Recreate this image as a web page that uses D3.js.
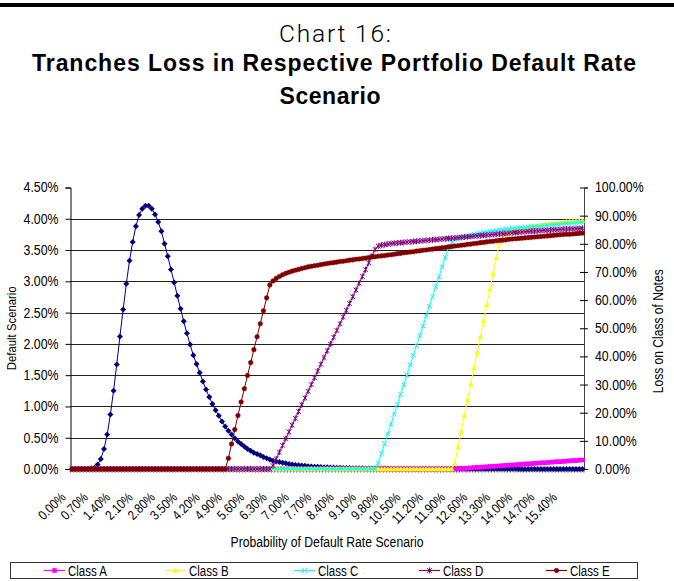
<!DOCTYPE html>
<html>
<head>
<meta charset="utf-8">
<script src="https://cdn.jsdelivr.net/npm/d3@7"></script>
<style>
  body { margin: 0; background: #fff; }
  svg { display: block; }
  text { font-family: "Liberation Sans Narrow", "Arial Narrow", "Liberation Sans", sans-serif; fill: #000; }
</style>
</head>
<body>
<div id="chart"></div>
<script>
// ---- data (values in %) ----
const xTickLabels = ["0.00%", "0.70%", "1.40%", "2.10%", "2.80%", "3.50%", "4.20%", "4.90%", "5.60%", "6.30%", "7.00%", "7.70%",
  "8.40%", "9.10%", "9.80%", "10.50%", "11.20%", "11.90%", "12.60%", "13.30%", "14.00%", "14.70%", "15.40%"];
const categories = d3.range(161).map(i => (i / 10).toFixed(2) + "%");

const leftTicks = [0, 0.5, 1, 1.5, 2, 2.5, 3, 3.5, 4, 4.5];
const rightTicks = [0, 10, 20, 30, 40, 50, 60, 70, 80, 90, 100];

const defaultScenario = [
  0, 0, 0, 0, 0, 0, 0.01, 0.02, 0.07, 0.16,
  0.32, 0.55, 0.87, 1.25, 1.67, 2.12, 2.55, 2.96, 3.33, 3.63,
  3.88, 4.06, 4.16, 4.21, 4.21, 4.16, 4.07, 3.95, 3.80, 3.60,
  3.40, 3.19, 2.98, 2.77, 2.56, 2.36, 2.17, 1.99, 1.82, 1.68,
  1.54, 1.40, 1.27, 1.15, 1.04, 0.94, 0.85, 0.76, 0.68, 0.61,
  0.55, 0.49, 0.44, 0.40, 0.36, 0.32, 0.29, 0.26, 0.24, 0.22,
  0.19, 0.17, 0.15, 0.13, 0.12, 0.11, 0.10, 0.09, 0.08, 0.07,
  0.065, 0.06, 0.055, 0.05, 0.045, 0.04, 0.037, 0.034, 0.031, 0.028,
  0.026, 0.024, 0.022, 0.02, 0.018, 0.017, 0.015, 0.014, 0.013, 0.012,
  0.011, 0.010, 0.009, 0.009, 0.008, 0.008, 0.007, 0.007, 0.006, 0.006,
  0.005, 0.005, 0.005, 0.004, 0.004, 0.004, 0.004, 0.003, 0.003, 0.003,
  0.003, 0.003, 0.003, 0.003, 0.003, 0.003, 0.003, 0.003, 0.003, 0.003,
  0.002, 0.002, 0.002, 0.002, 0.002, 0.002, 0.002, 0.002, 0.002, 0.002,
  0.002, 0.002, 0.002, 0.002, 0.002, 0.002, 0.002, 0.002, 0.002, 0.002,
  0.001, 0.001, 0.001, 0.001, 0.001, 0.001, 0.001, 0.001, 0.001, 0.001,
  0.001, 0.001, 0.001, 0.001, 0.001, 0.001, 0.001, 0.001, 0.001, 0.001,
  0.001
];

const classA = [
  0, 0, 0, 0, 0, 0, 0, 0, 0, 0,
  0, 0, 0, 0, 0, 0, 0, 0, 0, 0,
  0, 0, 0, 0, 0, 0, 0, 0, 0, 0,
  0, 0, 0, 0, 0, 0, 0, 0, 0, 0,
  0, 0, 0, 0, 0, 0, 0, 0, 0, 0,
  0, 0, 0, 0, 0, 0, 0, 0, 0, 0,
  0, 0, 0, 0, 0, 0, 0, 0, 0, 0,
  0, 0, 0, 0, 0, 0, 0, 0, 0, 0,
  0, 0, 0, 0, 0, 0, 0, 0, 0, 0,
  0, 0, 0, 0, 0, 0, 0, 0, 0, 0,
  0, 0, 0, 0, 0, 0, 0, 0, 0, 0,
  0, 0, 0, 0, 0, 0, 0, 0, 0, 0,
  0, 0.1, 0.2, 0.2, 0.3, 0.4, 0.5, 0.6, 0.6, 0.7,
  0.8, 0.9, 1.0, 1.0, 1.1, 1.2, 1.3, 1.4, 1.4, 1.5,
  1.6, 1.7, 1.8, 1.8, 1.9, 2.0, 2.1, 2.2, 2.2, 2.3,
  2.4, 2.5, 2.6, 2.6, 2.7, 2.8, 2.9, 3.0, 3.0, 3.1,
  3.2
];

const classB = [
  0, 0, 0, 0, 0, 0, 0, 0, 0, 0,
  0, 0, 0, 0, 0, 0, 0, 0, 0, 0,
  0, 0, 0, 0, 0, 0, 0, 0, 0, 0,
  0, 0, 0, 0, 0, 0, 0, 0, 0, 0,
  0, 0, 0, 0, 0, 0, 0, 0, 0, 0,
  0, 0, 0, 0, 0, 0, 0, 0, 0, 0,
  0, 0, 0, 0, 0, 0, 0, 0, 0, 0,
  0, 0, 0, 0, 0, 0, 0, 0, 0, 0,
  0, 0, 0, 0, 0, 0, 0, 0, 0, 0,
  0, 0, 0, 0, 0, 0, 0, 0, 0, 0,
  0, 0, 0, 0, 0, 0, 0, 0, 0, 0,
  0, 0, 0, 0, 0, 0, 0, 0, 0, 0,
  2.0, 7.7, 13.4, 19.0, 24.6, 30.2, 35.8, 41.4, 47.0, 52.6,
  58.2, 63.8, 69.4, 75.0, 80.6, 82.6, 83.4, 84.0, 84.4, 84.8,
  85.1, 85.4, 85.6, 85.8, 86.0, 86.2, 86.4, 86.6, 86.8, 86.9,
  87.1, 87.2, 87.4, 87.5, 87.6, 87.8, 87.9, 88.0, 88.1, 88.2,
  88.3
];

const classC = [
  0, 0, 0, 0, 0, 0, 0, 0, 0, 0,
  0, 0, 0, 0, 0, 0, 0, 0, 0, 0,
  0, 0, 0, 0, 0, 0, 0, 0, 0, 0,
  0, 0, 0, 0, 0, 0, 0, 0, 0, 0,
  0, 0, 0, 0, 0, 0, 0, 0, 0, 0,
  0, 0, 0, 0, 0, 0, 0, 0, 0, 0,
  0, 0, 0, 0, 0, 0, 0, 0, 0, 0,
  0, 0, 0, 0, 0, 0, 0, 0, 0, 0,
  0, 0, 0, 0, 0, 0, 0, 0, 0, 0,
  0, 0, 0, 0, 0, 0, 2.1, 5.6, 9.0, 12.5,
  16.0, 19.5, 23.0, 26.5, 29.9, 33.4, 36.9, 40.4, 43.8, 47.3,
  50.8, 54.3, 57.8, 61.2, 64.7, 68.2, 71.7, 75.2, 78.6, 80.6,
  81.3, 81.8, 82.2, 82.5, 82.8, 83.1, 83.4, 83.6, 83.8, 84.0,
  84.2, 84.4, 84.6, 84.7, 84.9, 85.0, 85.2, 85.3, 85.5, 85.6,
  85.7, 85.8, 85.9, 86.0, 86.1, 86.2, 86.3, 86.4, 86.5, 86.6,
  86.7, 86.8, 86.9, 87.0, 87.1, 87.2, 87.3, 87.4, 87.5, 87.6,
  87.7
];

const classD = [
  0, 0, 0, 0, 0, 0, 0, 0, 0, 0,
  0, 0, 0, 0, 0, 0, 0, 0, 0, 0,
  0, 0, 0, 0, 0, 0, 0, 0, 0, 0,
  0, 0, 0, 0, 0, 0, 0, 0, 0, 0,
  0, 0, 0, 0, 0, 0, 0, 0, 0, 0,
  0, 0, 0, 0, 0, 0, 0, 0, 0, 0,
  0, 0, 0, 1.2, 3.6, 6.0, 8.4, 10.8, 13.2, 15.6,
  18.0, 20.4, 22.8, 25.2, 27.6, 30.0, 32.4, 34.8, 37.2, 39.6,
  42.0, 44.4, 46.8, 49.2, 51.6, 54.0, 56.4, 58.8, 61.2, 63.6,
  66.0, 68.4, 70.8, 73.2, 75.6, 78.0, 79.2, 79.5, 79.7, 79.9,
  80.1, 80.2, 80.3, 80.4, 80.5, 80.6, 80.7, 80.8, 80.9, 81.0,
  81.1, 81.2, 81.3, 81.4, 81.5, 81.6, 81.7, 81.8, 81.9, 82.0,
  82.1, 82.2, 82.3, 82.4, 82.5, 82.6, 82.7, 82.8, 82.9, 83.0,
  83.1, 83.2, 83.3, 83.4, 83.5, 83.6, 83.7, 83.8, 83.9, 84.0,
  84.1, 84.2, 84.3, 84.4, 84.5, 84.5, 84.6, 84.7, 84.8, 84.8,
  84.9, 85.0, 85.0, 85.1, 85.2, 85.2, 85.3, 85.3, 85.4, 85.4,
  85.5
];

const classE = [
  0, 0, 0, 0, 0, 0, 0, 0, 0, 0,
  0, 0, 0, 0, 0, 0, 0, 0, 0, 0,
  0, 0, 0, 0, 0, 0, 0, 0, 0, 0,
  0, 0, 0, 0, 0, 0, 0, 0, 0, 0,
  0, 0, 0, 0, 0, 0, 0, 0, 0, 3.8,
  8.9, 14.0, 19.0, 23.8, 28.5, 33.2, 37.8, 42.4, 47.0, 51.6,
  56.2, 60.8, 65.4, 66.8, 67.7, 68.4, 69.0, 69.5, 69.9, 70.3,
  70.6, 70.9, 71.2, 71.5, 71.8, 72.0, 72.2, 72.4, 72.6, 72.8,
  73.0, 73.2, 73.3, 73.5, 73.7, 73.8, 74.0, 74.2, 74.3, 74.5,
  74.6, 74.8, 74.9, 75.1, 75.3, 75.4, 75.6, 75.7, 75.8, 76.0,
  76.1, 76.3, 76.5, 76.6, 76.8, 76.9, 77.1, 77.2, 77.4, 77.5,
  77.7, 77.8, 78.0, 78.1, 78.3, 78.4, 78.6, 78.7, 78.9, 79.0,
  79.2, 79.3, 79.5, 79.6, 79.8, 79.9, 80.1, 80.2, 80.4, 80.5,
  80.7, 80.8, 80.9, 81.1, 81.2, 81.3, 81.4, 81.6, 81.7, 81.8,
  81.9, 82.0, 82.1, 82.2, 82.3, 82.4, 82.5, 82.6, 82.7, 82.8,
  82.9, 83.0, 83.1, 83.2, 83.3, 83.4, 83.4, 83.5, 83.6, 83.7,
  83.8
];

const classNames = ["Class A", "Class B", "Class C", "Class D", "Class E"];
const classValues = [classA, classB, classC, classD, classE];
const classColors = ["#ff00ff", "#ffff00", "#00ffff", "#800080", "#800000"];
const classMarkers = ["square", "triangle", "x", "star", "circle"];

// ---- layout ----
const width = 674;
const height = 581;
const plot = { left: 70.5, right: 584, top: 187.5, bottom: 469 };

const svg = d3.select("#chart")
  .append("svg")
  .attr("width", width)
  .attr("height", height);

svg.append("rect").attr("width", width).attr("height", height).attr("fill", "#fff");

// squeeze text horizontally so it reads like a narrow face
function narrow(sel, factor) {
  sel.each(function() {
    const len = this.getComputedTextLength();
    d3.select(this).attr("textLength", len * factor).attr("lengthAdjust", "spacingAndGlyphs");
  });
}

// top rule + titles
svg.append("rect").attr("x", 0).attr("y", 3).attr("width", width).attr("height", 4).attr("fill", "#000");

svg.append("text")
  .attr("x", 335).attr("y", 42)
  .attr("text-anchor", "middle")
  .style("font-family", "Roboto, 'Liberation Sans', sans-serif")
  .style("font-weight", 300)
  .style("font-size", "24.5px")
  .attr("textLength", 112)
  .attr("lengthAdjust", "spacing")
  .text("Chart 16:");

svg.append("text")
  .attr("x", 334).attr("y", 70.5)
  .attr("text-anchor", "middle")
  .style("font-family", "'Liberation Sans', Arial, sans-serif")
  .style("font-weight", "bold")
  .style("font-size", "23px")
  .attr("textLength", 604)
  .attr("lengthAdjust", "spacing")
  .text("Tranches Loss in Respective Portfolio Default Rate");

svg.append("text")
  .attr("x", 330).attr("y", 104)
  .attr("text-anchor", "middle")
  .style("font-family", "'Liberation Sans', Arial, sans-serif")
  .style("font-weight", "bold")
  .style("font-size", "23px")
  .attr("textLength", 101)
  .attr("lengthAdjust", "spacing")
  .text("Scenario");

// ---- scales ----
const x = d3.scaleBand()
  .domain(categories)
  .range([plot.left, plot.right])
  .padding(0);

const yLeft = d3.scaleLinear().domain([0, 4.5]).range([plot.bottom, plot.top]);
const yRight = d3.scaleLinear().domain([0, 100]).range([plot.bottom, plot.top]);
const cx = d => x(d) + x.bandwidth() / 2;

// gridlines
svg.append("g")
  .selectAll("line")
  .data(leftTicks.filter(t => t > 0 && t < 4.5))
  .join("line")
  .attr("x1", plot.left).attr("x2", plot.right)
  .attr("y1", d => Math.round(yLeft(d)) + 0.5)
  .attr("y2", d => Math.round(yLeft(d)) + 0.5)
  .attr("stroke", "#222")
  .attr("stroke-width", 1);

// left axis
const leftAxis = svg.append("g")
  .attr("transform", `translate(${plot.left},0)`)
  .call(d3.axisLeft(yLeft).tickValues(leftTicks).tickSize(5).tickPadding(7)
    .tickFormat(d => d.toFixed(2) + "%"));
leftAxis.select(".domain").attr("stroke", "#000");
leftAxis.selectAll("text").style("font-size", "14px").style("font-family", null).call(narrow, 0.88);

// right axis with crossing ticks
const rightAxis = svg.append("g")
  .attr("transform", `translate(${plot.right},0)`)
  .call(d3.axisRight(yRight).tickValues(rightTicks).tickSize(4).tickPadding(7)
    .tickFormat(d => d.toFixed(2) + "%"));
rightAxis.select(".domain").attr("stroke", "#444");
rightAxis.selectAll(".tick line").attr("x1", -4).attr("x2", 4);
rightAxis.selectAll("text").style("font-size", "14px").style("font-family", null).call(narrow, 0.88);

// x axis: line, boundary ticks, rotated labels
const xAxis = svg.append("g");
xAxis.append("line")
  .attr("x1", plot.left).attr("x2", plot.right)
  .attr("y1", plot.bottom + 0.5).attr("y2", plot.bottom + 0.5)
  .attr("stroke", "#000");
xAxis.selectAll("line.bt")
  .data(categories.concat(["end"]))
  .join("line")
  .attr("class", "bt")
  .attr("x1", d => d === "end" ? plot.right : x(d))
  .attr("x2", d => d === "end" ? plot.right : x(d))
  .attr("y1", plot.bottom)
  .attr("y2", plot.bottom + 3.5)
  .attr("stroke", "#000")
  .attr("stroke-width", 0.8);
xAxis.selectAll("text")
  .data(xTickLabels)
  .join("text")
  .attr("text-anchor", "end")
  .attr("transform", d => `translate(${cx(d) - 5.5},${498})rotate(-45)`)
  .style("font-size", "13.5px")
  .text(d => d)
  .call(narrow, 0.84);

// axis titles
svg.append("text")
  .attr("transform", `translate(16,${(plot.top + plot.bottom) / 2})rotate(-90)`)
  .attr("text-anchor", "middle")
  .style("font-size", "13.5px")
  .text("Default Scenario")
  .call(narrow, 0.84);

svg.append("text")
  .attr("transform", `translate(663,${(plot.top + plot.bottom) / 2 + 3})rotate(-90)`)
  .attr("text-anchor", "middle")
  .style("font-size", "14px")
  .text("Loss on Class of Notes")
  .call(narrow, 0.86);

svg.append("text")
  .attr("x", 327).attr("y", 547)
  .attr("text-anchor", "middle")
  .style("font-size", "14px")
  .text("Probability of Default Rate Scenario")
  .call(narrow, 0.87);

// ---- markers ----
function drawMarker(sel, type, color) {
  if (type === "circle") {
    sel.append("circle").attr("r", 2.3).attr("fill", color).attr("stroke", color).attr("stroke-width", 0.5);
  } else if (type === "diamond") {
    sel.append("path").attr("d", "M0,-3L3,0L0,3L-3,0Z").attr("fill", color);
  } else if (type === "square") {
    sel.append("path").attr("d", "M-2.3,-2.3h4.6v4.6h-4.6Z").attr("fill", color);
  } else if (type === "triangle") {
    sel.append("path").attr("d", "M0,-3L2.8,2.2L-2.8,2.2Z").attr("fill", color);
  } else if (type === "x") {
    sel.append("path").attr("d", "M-2.3,-2.3L2.3,2.3M-2.3,2.3L2.3,-2.3")
      .attr("fill", "none").attr("stroke", color).attr("stroke-width", 1);
  } else if (type === "star") {
    sel.append("path").attr("d", "M-2.3,-2.3L2.3,2.3M-2.3,2.3L2.3,-2.3M0,-3V3")
      .attr("fill", "none").attr("stroke", color).attr("stroke-width", 1);
  }
}

function drawSeries(values, yScale, color, marker) {
  const g = svg.append("g");
  const line = d3.line()
    .x((d, i) => cx(categories[i]))
    .y(d => yScale(d));
  g.append("path")
    .datum(values)
    .attr("d", line)
    .attr("fill", "none")
    .attr("stroke", color)
    .attr("stroke-width", 1);
  g.selectAll("g")
    .data(values)
    .join("g")
    .attr("transform", (d, i) => `translate(${cx(categories[i])},${yScale(d)})`)
    .each(function() { drawMarker(d3.select(this), marker, color); });
}

drawSeries(defaultScenario, yLeft, "#000080", "diamond");
classValues.forEach((vals, k) => drawSeries(vals, yRight, classColors[k], classMarkers[k]));

// ---- legend ----
const legendX = [44, 165, 294, 419, 546];
const legend = svg.append("g");
legend.append("rect")
  .attr("x", 10.5).attr("y", 562.5)
  .attr("width", 627).attr("height", 16)
  .attr("fill", "#fff")
  .attr("stroke", "#333");

const items = legend.selectAll("g.item")
  .data(classNames)
  .join("g")
  .attr("class", "item")
  .attr("transform", (d, i) => `translate(${legendX[i]},570.5)`);
items.append("line")
  .attr("x1", 0).attr("x2", 21)
  .attr("stroke", (d, i) => classColors[i])
  .attr("stroke-width", 1.2);
items.each(function(d, i) {
  const m = d3.select(this).append("g").attr("transform", "translate(10.5,0)");
  drawMarker(m, classMarkers[i], classColors[i]);
});
items.append("text")
  .attr("x", 24).attr("y", 5)
  .style("font-size", "14px")
  .text(d => d)
  .call(narrow, 0.82);
</script>
</body>
</html>
